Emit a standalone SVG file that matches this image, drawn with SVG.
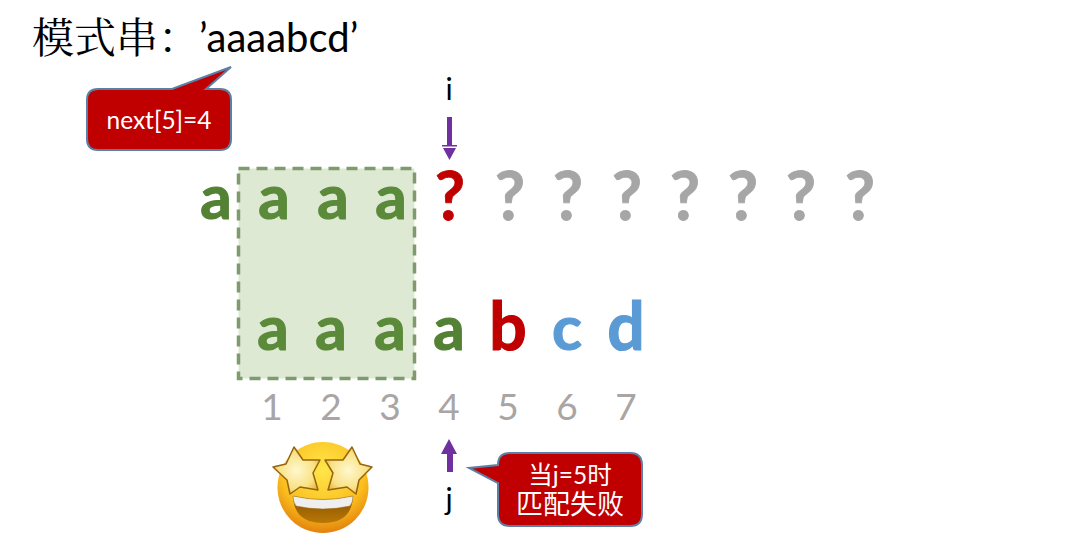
<svg xmlns="http://www.w3.org/2000/svg" width="1091" height="557" viewBox="0 0 1091 557">
<defs>
<style>
text{font-family:"Lato","Noto Sans CJK SC",sans-serif}
.big{font-size:62px;font-weight:700;text-anchor:middle;stroke-width:1.200px}
.tall{font-size:66px}
.qm{font-size:66px;stroke-width:.8px}
.g{fill:#548235;stroke:#548235}.gb{fill:#5a8a3a;stroke:#5a8a3a}.r{fill:#c00000;stroke:#c00000}.q{fill:#a6a6a6;stroke:#a6a6a6}.b{fill:#5b9bd5;stroke:#5b9bd5}
.n{font-size:37px;fill:#a9a5a5;text-anchor:middle}
.lbl{font-size:30px;fill:#000;text-anchor:middle}
.call{fill:#c00000;stroke:#5b7fa5;stroke-width:2}
.ct{fill:#fff;text-anchor:middle}
.arr{fill:#7030a0}
</style>
<radialGradient id="face" cx="50%" cy="30%" r="72%"><stop offset="0" stop-color="#ffe64a"/><stop offset=".65" stop-color="#fbbf1e"/><stop offset="1" stop-color="#e07d0c"/></radialGradient>
<radialGradient id="star" cx="50%" cy="50%" r="60%"><stop offset="0" stop-color="#fff8cf"/><stop offset=".65" stop-color="#f9e183"/><stop offset="1" stop-color="#e3ae30"/></radialGradient>
<linearGradient id="mouth" x1="0" y1="0" x2="0" y2="1"><stop offset="0" stop-color="#8a5000"/><stop offset="1" stop-color="#b87806"/></linearGradient>
</defs>
<g id="title"><text x="32" y="53" font-size="42" fill="#000" style="font-family:'Noto Serif CJK SC','Noto Sans CJK SC',serif">模式串：</text><text x="199" y="52" font-size="40" fill="#000">’aaaabcd’</text></g>
<g id="callout-next"><path class="call" d="M98 89H172L231 67L206 89H220Q231 89 231 100V139Q231 150 220 150H98Q87 150 87 139V100Q87 89 98 89Z"/><text class="ct" x="159" y="129" font-size="24.500">next[5]=4</text></g>
<g id="match-box"><rect x="238.500" y="168.500" width="176" height="210" fill="#dee9d3" stroke="#7f9a6d" stroke-width="3.500" stroke-dasharray="11 7"/></g>
<g id="text-row">
<text class="big g" x="216" y="219">a</text><text class="big gb" x="274" y="219">a</text><text class="big gb" x="333" y="219">a</text><text class="big gb" x="391" y="219">a</text>
<text class="big qm r" x="450" y="220">?</text><text class="big qm q" x="510" y="220">?</text><text class="big qm q" x="568" y="220">?</text><text class="big qm q" x="627" y="220">?</text><text class="big qm q" x="685" y="220">?</text><text class="big qm q" x="743" y="220">?</text><text class="big qm q" x="801" y="220">?</text><text class="big qm q" x="860" y="220">?</text>
</g>
<g id="pattern-row">
<text class="big gb" x="273" y="350">a</text><text class="big gb" x="331" y="350">a</text><text class="big gb" x="390" y="350">a</text><text class="big g" x="449" y="350">a</text><text class="big tall r" x="508" y="350">b</text><text class="big b" x="567" y="350">c</text><text class="big tall b" x="626" y="350">d</text>
</g>
<g id="index-row">
<text class="n" x="272" y="420">1</text><text class="n" x="331" y="420">2</text><text class="n" x="390" y="420">3</text><text class="n" x="449" y="420">4</text><text class="n" x="508" y="420">5</text><text class="n" x="567" y="420">6</text><text class="n" x="626" y="420">7</text>
</g>
<g id="label-i"><text class="lbl" x="449" y="100">i</text></g>
<g id="label-j"><text class="lbl" x="449" y="510">j</text></g>
<g id="connectors">
<path class="arr" d="M447 117H452V145H457V146.500H442V145H447Z"/>
<path class="arr" d="M443 148H456L449.500 160Z"/>
<path class="arr" d="M447 472H453V454H457L449 439L441 454H447Z"/>
</g>
<g id="callout-j"><path class="call" d="M510 453H630Q642 453 642 465V514Q642 526 630 526H510Q498 526 498 514V483L469 468L498 465Q498 453 510 453Z"/><text class="ct" x="570" y="484" font-size="24.500">当j=5时</text><text class="ct" x="570" y="514" font-size="27">匹配失败</text></g>
<g id="emoji">
<circle cx="323" cy="487.500" r="45.500" fill="url(#face)"/>
<path d="M293 496Q323 503 353 496Q352 523 323 523Q294 523 293 496Z" fill="url(#mouth)"/>
<path d="M293 496Q323 503 353 496Q353 502 350 506Q323 512 296 506Q293 502 293 496Z" fill="#efefef" stroke="#9a6a10" stroke-width=".5"/>
<path d="M294 447L303 460L320 460L313 473L318 490L300 487L290 494L287 480L273 467L286 464Z" fill="url(#star)" stroke="#96640f" stroke-width="1.500" stroke-linejoin="round"/>
<path d="M352 447L343 460L325 460L333 473L328 490L347 487L356 494L359 480L372 467L360 464Z" fill="url(#star)" stroke="#96640f" stroke-width="1.500" stroke-linejoin="round"/>
</g>
</svg>
